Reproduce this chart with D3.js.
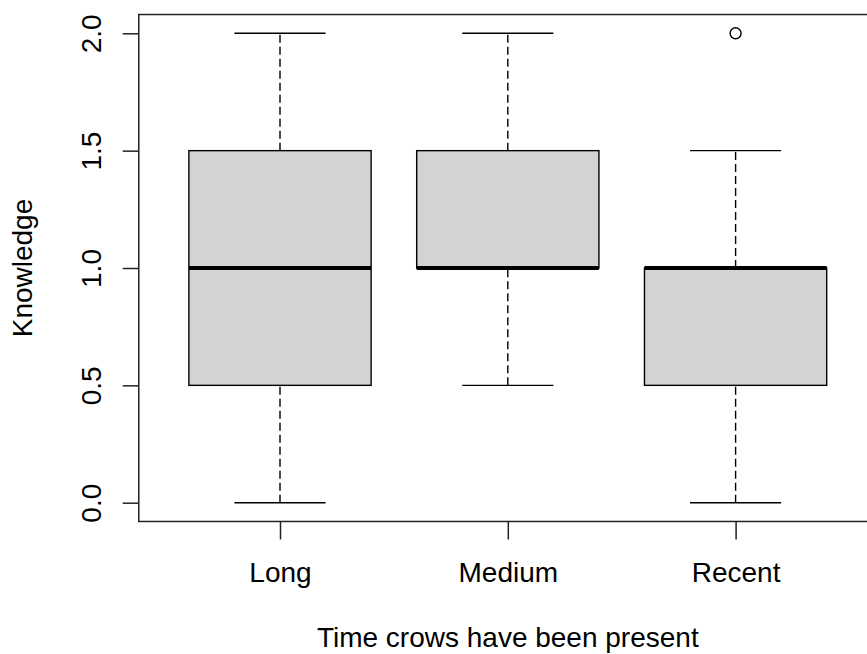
<!DOCTYPE html>
<html>
<head>
<meta charset="utf-8">
<script src="https://cdn.jsdelivr.net/npm/d3@7"></script>
<style>
  html, body { margin: 0; padding: 0; background: #fff; }
  svg { display: block; }
  text { font-family: "Liberation Sans", Arial, sans-serif; fill: #000; }
</style>
</head>
<body>
<svg id="chart" width="867" height="654"></svg>
<script>
// ---- data ----
const categories = ["Long", "Medium", "Recent"];
const whiskerLow  = [0.0, 0.5, 0.0];
const q1          = [0.5, 1.0, 0.5];
const median      = [1.0, 1.0, 1.0];
const q3          = [1.5, 1.5, 1.0];
const whiskerHigh = [2.0, 2.0, 1.5];
const outliers    = [[], [], [2.0]];
const yTicks = [0.0, 0.5, 1.0, 1.5, 2.0];
const yTickLabels = ["0.0", "0.5", "1.0", "1.5", "2.0"];
const xTitle = "Time crows have been present";
const yTitle = "Knowledge";

const svg = d3.select("#chart");
const fontSize = 28;

// scales (R style: xlim 0.5..3.5 extended 4%, ylim 0..2 extended 4%)
const x = d3.scaleLinear().domain([1, 3]).range([280, 735.6]);
const y = d3.scaleLinear().domain([0, 2]).range([502.7, 33.3]);
const xL = x(0.38), xR = x(3.62), yB = y(-0.08), yT = y(2.08);

const boxHalf = 0.4, capHalf = 0.2;
const data = categories.map((c, i) => ({
  c, i: i + 1, lo: whiskerLow[i], q1: q1[i], med: median[i], q3: q3[i], hi: whiskerHigh[i], out: outliers[i]
}));

const g = svg.append("g");

// whiskers (dashed)
g.selectAll(".wl").data(data).enter().append("line")
  .attr("x1", d => x(d.i)).attr("x2", d => x(d.i))
  .attr("y1", d => y(d.lo)).attr("y2", d => y(d.q1))
  .attr("stroke", "#000").attr("stroke-width", 1.4).attr("stroke-dasharray", "8,4");
g.selectAll(".wh").data(data).enter().append("line")
  .attr("x1", d => x(d.i)).attr("x2", d => x(d.i))
  .attr("y1", d => y(d.q3)).attr("y2", d => y(d.hi))
  .attr("stroke", "#000").attr("stroke-width", 1.4).attr("stroke-dasharray", "8,4");

// caps
g.selectAll(".cl").data(data).enter().append("line")
  .attr("x1", d => x(d.i - capHalf)).attr("x2", d => x(d.i + capHalf))
  .attr("y1", d => y(d.lo)).attr("y2", d => y(d.lo))
  .attr("stroke", "#000").attr("stroke-width", 1.4);
g.selectAll(".ch").data(data).enter().append("line")
  .attr("x1", d => x(d.i - capHalf)).attr("x2", d => x(d.i + capHalf))
  .attr("y1", d => y(d.hi)).attr("y2", d => y(d.hi))
  .attr("stroke", "#000").attr("stroke-width", 1.4);

// boxes
g.selectAll(".box").data(data).enter().append("rect")
  .attr("x", d => x(d.i - boxHalf)).attr("width", d => x(d.i + boxHalf) - x(d.i - boxHalf))
  .attr("y", d => y(d.q3)).attr("height", d => y(d.q1) - y(d.q3))
  .attr("fill", "#d3d3d3").attr("stroke", "#000").attr("stroke-width", 1.4);

// medians
g.selectAll(".med").data(data).enter().append("line")
  .attr("x1", d => x(d.i - boxHalf)).attr("x2", d => x(d.i + boxHalf))
  .attr("y1", d => y(d.med)).attr("y2", d => y(d.med))
  .attr("stroke", "#000").attr("stroke-width", 4);

// outliers
data.forEach(d => {
  g.selectAll(null).data(d.out).enter().append("circle")
    .attr("cx", x(d.i)).attr("cy", v => y(v)).attr("r", 5.5)
    .attr("fill", "none").attr("stroke", "#000").attr("stroke-width", 1.4);
});

// frame
svg.append("rect")
  .attr("x", xL).attr("y", yT).attr("width", xR - xL).attr("height", yB - yT)
  .attr("fill", "none").attr("stroke", "#222").attr("stroke-width", 1.5);

// y axis
const yAxis = d3.axisLeft(y).tickValues(yTicks).tickFormat((d, i) => yTickLabels[i]).tickSize(16).tickPadding(0);
const ya = svg.append("g").attr("transform", `translate(${xL},0)`).call(yAxis);
ya.select(".domain").remove();
ya.selectAll(".tick line").attr("stroke", "#222").attr("stroke-width", 1.5);
ya.selectAll(".tick text").remove();
ya.selectAll(".tick").append("text")
  .attr("transform", "translate(-38,0) rotate(-90)")
  .attr("text-anchor", "middle")
  .attr("dy", 0)
  .style("font-size", fontSize + "px")
  .text((d, i) => yTickLabels[i]);

// x axis
const xAxis = d3.axisBottom(x).tickValues(data.map(d => d.i)).tickFormat((d, i) => categories[i]).tickSize(18).tickPadding(0);
const xa = svg.append("g").attr("transform", `translate(0,${yB})`).call(xAxis);
xa.select(".domain").remove();
xa.selectAll(".tick line").attr("stroke", "#222").attr("stroke-width", 1.5);
xa.selectAll(".tick text")
  .attr("y", 582 - yB).attr("dy", 0)
  .style("font-size", fontSize + "px").attr("font-family", null);

// titles
svg.append("text")
  .attr("x", (xL + xR) / 2).attr("y", 647)
  .attr("text-anchor", "middle")
  .style("font-size", fontSize + "px")
  .text(xTitle);
svg.append("text")
  .attr("transform", `translate(32,${(yT + yB) / 2}) rotate(-90)`)
  .attr("text-anchor", "middle")
  .style("font-size", fontSize + "px")
  .text(yTitle);
</script>
</body>
</html>
